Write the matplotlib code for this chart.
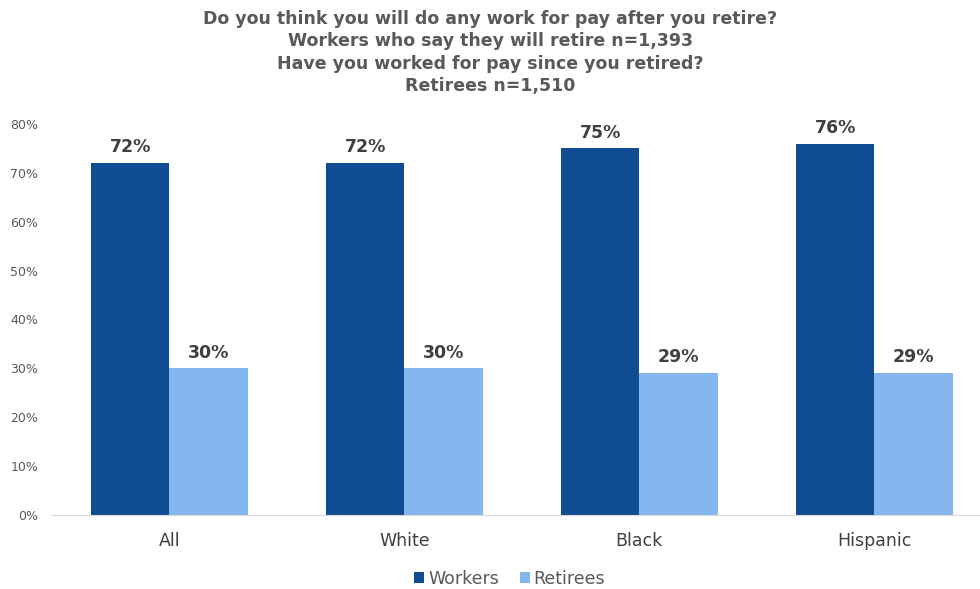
import numpy as np
import matplotlib.pyplot as plt

categories = ["All", "White", "Black", "Hispanic"]
workers = [72, 72, 75, 76]
retirees = [30, 30, 29, 29]
yticks = [0, 10, 20, 30, 40, 50, 60, 70, 80]

title = ("Do you think you will do any work for pay after you retire?\n"
         "Workers who say they will retire n=1,393\n"
         "Have you worked for pay since you retired?\n"
         "Retirees n=1,510")

plt.rcParams['font.family'] = ['DejaVu Sans']

fig = plt.figure(figsize=(9.8, 5.89), dpi=100)
ax = fig.add_axes([52/980, 74/589, 928/980, 391/589])

x = np.arange(len(categories))
w = 0.333
b1 = ax.bar(x - w/2, workers, w, color="#0F4C92", label="Workers")
b2 = ax.bar(x + w/2, retirees, w, color="#85B7EE", label="Retirees")

for bars, vals in ((b1, workers), (b2, retirees)):
    for r, v in zip(bars, vals):
        ax.text(r.get_x() + r.get_width()/2, v + 1.4, f"{v}%", ha="center", va="bottom",
                fontsize=12.5, fontweight="bold", color="#404040")

ax.set_xlim(-0.5, 3.45)
ax.set_ylim(0, 80)
ax.set_yticks(yticks)
ax.set_yticklabels([f"{t}%" for t in yticks], fontsize=9, color="#595959")
ax.tick_params(axis="y", length=0, pad=10)
ax.set_xticks(x)
ax.set_xticklabels(categories, fontsize=12.5, color="#404040")
ax.tick_params(axis="x", length=0, pad=12)
for s in ["top", "right", "left"]:
    ax.spines[s].set_visible(False)
ax.spines["bottom"].set_color("#D9D9D9")

fig.suptitle(title, y=0.983, fontsize=12.5, fontweight="bold", color="#595959", linespacing=1.32)

fig.legend(loc="lower center", bbox_to_anchor=(0.52, -0.025), ncol=2, frameon=False,
           fontsize=12.5, handlelength=0.6, handleheight=0.6, handletextpad=0.2,
           columnspacing=1.2, labelcolor="#595959")

fig.savefig("out.png", dpi=100)
